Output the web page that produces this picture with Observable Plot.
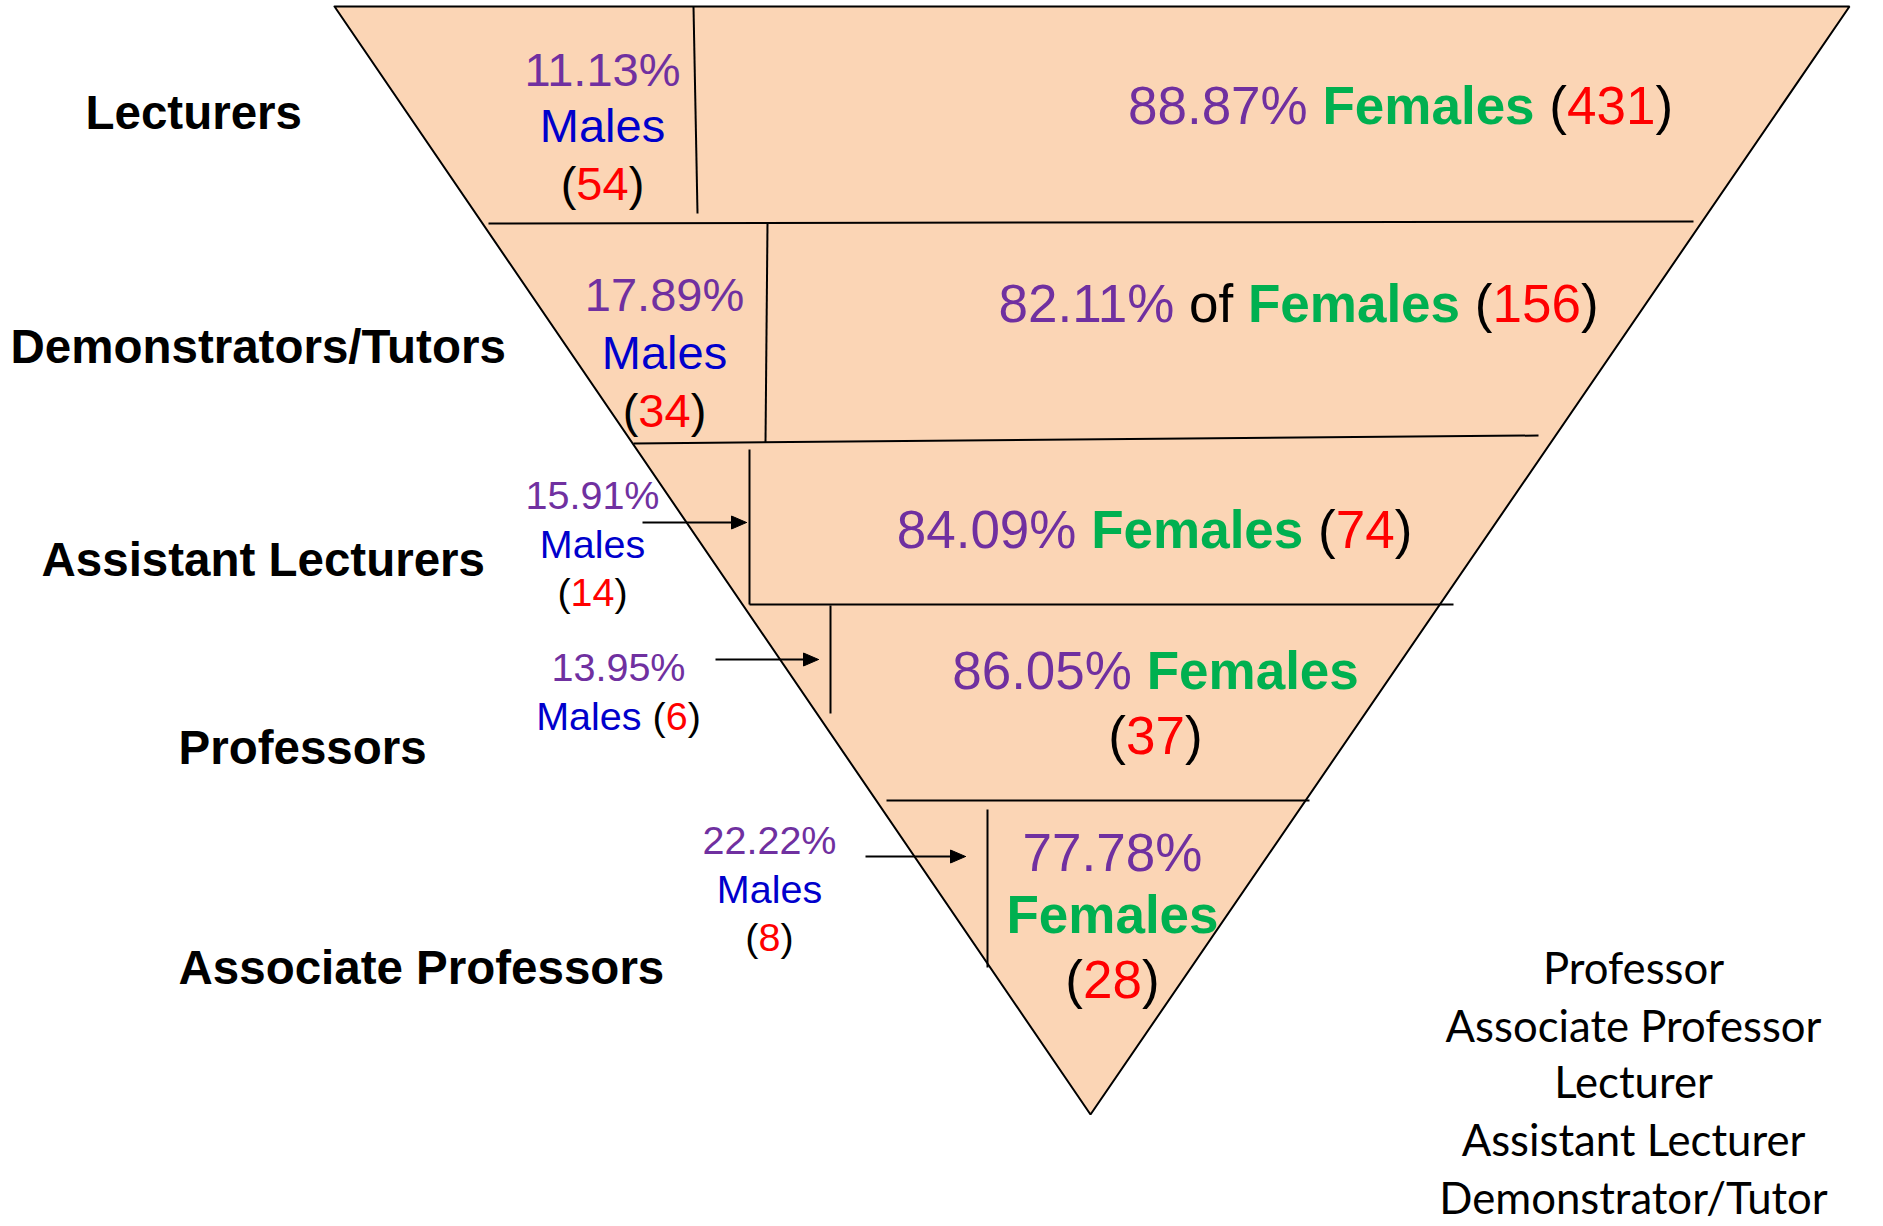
<!DOCTYPE html>
<html><head><meta charset="utf-8">
<script src="https://cdn.jsdelivr.net/npm/d3@7"></script>
<script src="https://cdn.jsdelivr.net/npm/@observablehq/plot@0.6"></script>
<style>html,body{margin:0;padding:0;background:#fff;} #chart svg{display:block;}</style>
</head><body><div id="chart"></div>
<script>
// ---------- DATA ----------
const categories = ["Lecturers", "Demonstrators/Tutors", "Assistant Lecturers", "Professors", "Associate Professors"];
const malePct    = [11.13, 17.89, 15.91, 13.95, 22.22];
const femalePct  = [88.87, 82.11, 84.09, 86.05, 77.78];
const maleCount  = [54, 34, 14, 6, 8];
const femaleCount = [431, 156, 74, 37, 28];
const legendLabels = ["Professor", "Associate Professor", "Lecturer", "Assistant Lecturer", "Demonstrator/Tutor"];
const maleWord = "Males";
const femaleWord = "Females";
const femaleJoin = ["", "of", "", "", ""];

// ---------- LAYOUT ----------
const W = 1883, H = 1226;
const FONT = "'Liberation Sans', Arial, sans-serif";
const LEGEND_FONT = "Lato, 'Open Sans', sans-serif";
const PURPLE = "#7030A0", BLUE = "#0000CC", GREEN = "#00B050", RED = "#FF0000", BLACK = "#000000";
const PEACH = "#FBD5B5";

const triangle = [{x: 334, y: 6}, {x: 1849, y: 6}, {x: 1090, y: 1114}, {x: 334, y: 6}];
const hDividers = [
  {x1: 488, y1: 223, x2: 1693, y2: 221},
  {x1: 633, y1: 443, x2: 1538, y2: 435},
  {x1: 749, y1: 604, x2: 1453, y2: 604},
  {x1: 886, y1: 800, x2: 1309, y2: 800}
];
const vDividers = [
  {x1: 693, y1: 6, x2: 697, y2: 213},
  {x1: 767, y1: 223, x2: 765, y2: 442},
  {x1: 749, y1: 449, x2: 749, y2: 604},
  {x1: 830, y1: 605, x2: 830, y2: 713},
  {x1: 987, y1: 809, x2: 987, y2: 967}
];
const arrows = [
  {x1: 642, x2: 746, y: 522},
  {x1: 715, x2: 818, y: 659},
  {x1: 865, x2: 965, y: 856}
];
const catPos = [
  {x: 85, y: 113}, {x: 10, y: 347}, {x: 41, y: 560}, {x: 178, y: 748}, {x: 178, y: 968}
];
const maleLayout = [
  {cx: 602, ys: [70, 126, 184], size: 47, lines: [["pct"], ["word"], ["count"]]},
  {cx: 664, ys: [295, 353, 411], size: 47, lines: [["pct"], ["word"], ["count"]]},
  {cx: 592, ys: [496, 545, 593], size: 39.5, lines: [["pct"], ["word"], ["count"]]},
  {cx: 618, ys: [668, 717], size: 39.5, lines: [["pct"], ["word", "count"]]},
  {cx: 769, ys: [841, 890, 938], size: 39.5, lines: [["pct"], ["word"], ["count"]]}
];
const femaleLayout = [
  {cx: 1400, ys: [107], size: 53, lines: [["pct", "word", "count"]]},
  {cx: 1298, ys: [305], size: 53, lines: [["pct", "join", "word", "count"]]},
  {cx: 1154, ys: [531], size: 53, lines: [["pct", "word", "count"]]},
  {cx: 1155, ys: [672, 737], size: 53, lines: [["pct", "word"], ["count"]]},
  {cx: 1112, ys: [854, 916, 981], size: 53, lines: [["pct"], ["word"], ["count"]]}
];
const legendPos = {cx: 1633, ys: [970, 1028, 1084, 1142, 1200], targetWidth: 376};

// ---------- TEXT SEGMENTS ----------
const ctx = document.createElement("canvas").getContext("2d");
function measure(t, size, bold, family = FONT) {
  ctx.font = `${bold ? "bold " : ""}${size}px ${family}`;
  return ctx.measureText(t).width;
}
const fmt = d3.format(".2f");
const NB = "\u00A0";
const segs = [];
function tokens(key, i, gender) {
  const isM = gender === "m";
  if (key === "pct") return [[fmt(isM ? malePct[i] : femalePct[i]) + "%", PURPLE, false]];
  if (key === "word") return isM ? [[maleWord, BLUE, false]] : [[femaleWord, GREEN, true]];
  if (key === "join") return [[femaleJoin[i], BLACK, false]];
  if (key === "count") return [["(", BLACK, false], [String(isM ? maleCount[i] : femaleCount[i]), RED, false], [")", BLACK, false]];
  return [];
}
function addLine(parts, cx, cy, size) {
  const widths = parts.map(p => measure(p[0], size, p[2]));
  let x = cx - d3.sum(widths) / 2;
  parts.forEach((p, k) => { segs.push({x, y: cy, text: p[0], color: p[1], bold: p[2], size}); x += widths[k]; });
}
function addLabel(layout, i, gender) {
  layout.lines.forEach((line, li) => {
    let parts = [];
    line.forEach((key, ki) => {
      if (ki > 0) parts.push([NB, BLACK, false]);
      parts = parts.concat(tokens(key, i, gender));
    });
    addLine(parts, layout.cx, layout.ys[li], layout.size);
  });
}
categories.forEach((c, i) => { addLabel(maleLayout[i], i, "m"); addLabel(femaleLayout[i], i, "f"); });

const catLabels = categories.map((c, i) => ({text: c, x: catPos[i].x, y: catPos[i].y}));
const legendSize = 47 * legendPos.targetWidth / measure("Associate Professor", 47, false, LEGEND_FONT);
const legend = legendLabels.map((t, i) => ({text: t, x: legendPos.cx, y: legendPos.ys[i]}));

const headLen = 15, headHalf = 6.5;
const shafts = arrows.map(a => ({x1: a.x1, x2: a.x2 - headLen + 2, y: a.y}));
const heads = arrows.flatMap((a, id) => [
  {id, x: a.x2, y: a.y}, {id, x: a.x2 - headLen, y: a.y - headHalf}, {id, x: a.x2 - headLen, y: a.y + headHalf}, {id, x: a.x2, y: a.y}
]);

// ---------- PLOT ----------
const chart = Plot.plot({
  width: W, height: H,
  margin: 0,
  x: {domain: [0, W], range: [0, W], axis: null},
  y: {domain: [0, H], range: [0, H], axis: null},
  color: {type: "identity"},
  style: {background: "#fff", overflow: "visible"},
  marks: [
    Plot.line(triangle, {x: "x", y: "y", fill: PEACH, stroke: BLACK, strokeWidth: 2, strokeLinejoin: "miter"}),
    Plot.link(hDividers, {x1: "x1", y1: "y1", x2: "x2", y2: "y2", stroke: BLACK, strokeWidth: 2}),
    Plot.link(vDividers, {x1: "x1", y1: "y1", x2: "x2", y2: "y2", stroke: BLACK, strokeWidth: 2}),
    Plot.link(shafts, {x1: "x1", y1: "y", x2: "x2", y2: "y", stroke: BLACK, strokeWidth: 2}),
    Plot.line(heads, {x: "x", y: "y", z: "id", fill: BLACK, stroke: BLACK, strokeWidth: 1}),
    Plot.text(catLabels, {x: "x", y: "y", text: "text", textAnchor: "start", fontFamily: FONT, fontWeight: "bold", fontSize: 47.5, fill: BLACK}),
    Plot.text(segs.filter(d => !d.bold), {x: "x", y: "y", text: "text", textAnchor: "start", fontFamily: FONT, fontSize: d => d.size, fill: d => d.color}),
    Plot.text(segs.filter(d => d.bold), {x: "x", y: "y", text: "text", textAnchor: "start", fontFamily: FONT, fontWeight: "bold", fontSize: d => d.size, fill: d => d.color}),
    Plot.text(legend, {x: "x", y: "y", text: "text", textAnchor: "middle", fontFamily: LEGEND_FONT, fontSize: legendSize, fill: BLACK})
  ]
});
document.getElementById("chart").appendChild(chart);
</script>
</body></html>
